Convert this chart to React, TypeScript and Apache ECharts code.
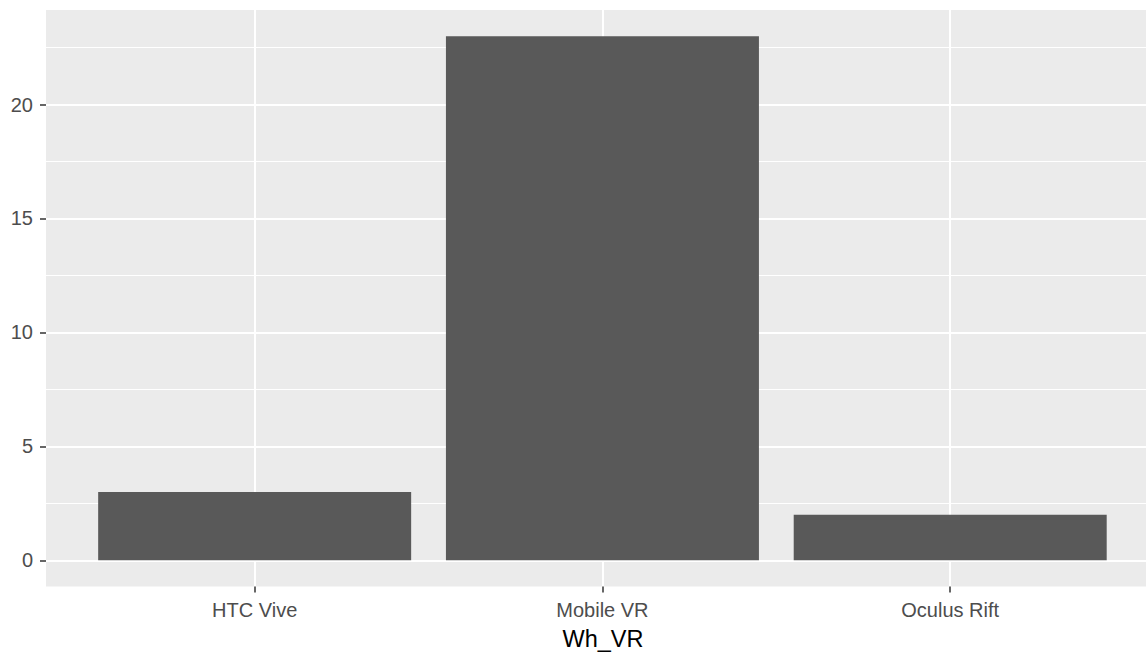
import React, { useEffect, useRef } from "react";
import * as echarts from "echarts";

const categories: string[] = ["HTC Vive", "Mobile VR", "Oculus Rift"];
const counts: number[] = [3, 23, 2];
const yMajorTicks: number[] = [0, 5, 10, 15, 20];
const yMinorTicks: number[] = [2.5, 7.5, 12.5, 17.5, 22.5];
const xTicks: number[] = [0, 1, 2];
const xTitle = "Wh_VR";

const FONT = "'Liberation Sans', Arial, sans-serif";

export default function App() {
  const ref = useRef<HTMLDivElement>(null);
  useEffect(() => {
    if (!ref.current) return;
    const chart = echarts.init(ref.current, null, { renderer: "svg" });
    const data = counts.map((v, i) => [i, v]);
    chart.setOption({
      animation: false,
      backgroundColor: "#FFFFFF",
      grid: {
        left: 46,
        right: 0,
        top: 10,
        bottom: 68.5,
        show: true,
        backgroundColor: "#EBEBEB",
        borderWidth: 0,
        containLabel: false,
        outerBoundsMode: "none",
      },
      xAxis: {
        type: "value",
        min: -0.6,
        max: 2.563,
        name: xTitle,
        nameLocation: "middle",
        nameGap: 40,
        nameMoveOverlap: false,
        nameTextStyle: {
          fontFamily: FONT,
          fontSize: 23.5,
          color: "#000000",
          padding: [0, 0, 0, 14],
        },
        axisLine: { show: false, onZero: false },
        axisTick: {
          show: true,
          customValues: xTicks,
          length: 6,
          lineStyle: { color: "#333333", width: 1.5 },
        },
        axisLabel: {
          customValues: xTicks,
          formatter: (v: number) => categories[Math.round(v)] ?? "",
          fontFamily: FONT,
          fontSize: 20,
          color: "#4D4D4D",
          margin: 13,
        },
        splitLine: { show: true, lineStyle: { color: "#FFFFFF", width: 2 } },
      },
      yAxis: [
        {
          type: "value",
          min: -1.15,
          max: 24.15,
          axisLine: { show: false, onZero: false },
          axisTick: {
            show: true,
            customValues: yMajorTicks,
            length: 6,
            lineStyle: { color: "#333333", width: 1.5 },
          },
          axisLabel: {
            customValues: yMajorTicks,
            fontFamily: FONT,
            fontSize: 20,
            color: "#4D4D4D",
            margin: 13,
          },
          splitLine: { show: true, lineStyle: { color: "#FFFFFF", width: 2 } },
        },
        {
          type: "value",
          min: -1.15,
          max: 24.15,
          position: "left",
          axisLine: { show: false, onZero: false },
          axisTick: { show: false, customValues: yMinorTicks },
          axisLabel: { show: false, customValues: yMinorTicks },
          splitLine: { show: true, lineStyle: { color: "#FFFFFF", width: 1 } },
        },
      ],
      series: [
        {
          type: "custom",
          xAxisIndex: 0,
          yAxisIndex: 0,
          encode: { x: 0, y: 1 },
          data,
          renderItem: (params: any, api: any) => {
            const x = api.value(0);
            const y = api.value(1);
            const p0 = api.coord([x - 0.45, y]);
            const p1 = api.coord([x + 0.45, 0]);
            return {
              type: "rect",
              shape: { x: p0[0], y: p0[1], width: p1[0] - p0[0], height: p1[1] - p0[1] },
              style: { fill: "#595959" },
            };
          },
        },
      ],
    });
    return () => chart.dispose();
  }, []);
  return (
    <div
      ref={ref}
      style={{ position: "absolute", left: 0, top: 0, width: 1146, height: 655 }}
    />
  );
}
